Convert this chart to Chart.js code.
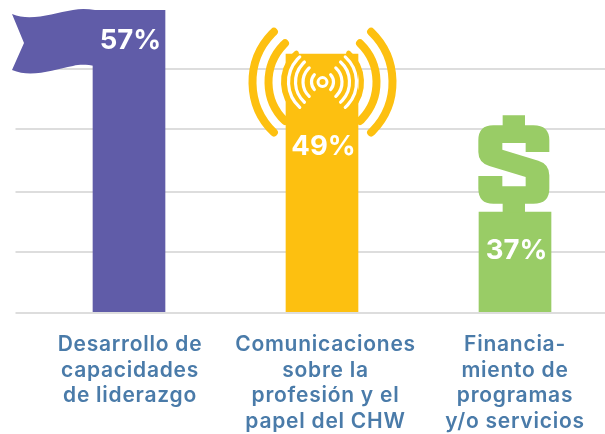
<!DOCTYPE html>
<html><head><meta charset="utf-8">
<script src="https://cdn.jsdelivr.net/npm/chart.js@4"></script>
<style>html,body{margin:0;padding:0;background:#fff;overflow:hidden;width:605px;height:434px}#w{position:relative;width:620px;height:434px}</style>
</head><body><div id="w"><canvas id="c"></canvas></div>
<script>
const categories=[["Desarrollo de","capacidades","de liderazgo"],["Comunicaciones","sobre la","profesión y el","papel del CHW"],["Financia-","miento de","programas","y/o servicios"]];
const values=[57,49,37];
const iconSpan=[0,0.3,18];
const labelAt=[51.2,31.3,11.7];
const gridValues=[0,11.4,22.75,34.6,45.85];
const labelNudge=[1,3.5,0];
const colors=["#605ca8","#fdc010","#99cc66"];
const FONT='Inter, "Open Sans", sans-serif';
const body=values.map((v,i)=>v-iconSpan[i]);

function flag(ctx,b,top){
  const r=b.x-b.width/2;
  ctx.fillStyle=colors[0];ctx.beginPath();
  ctx.moveTo(r-81,top+4);
  ctx.bezierCurveTo(r-62,top+12,r-40,top+3,r-20,top);
  ctx.bezierCurveTo(r-12,top-1.5,r-5,top-1,r+2,top);
  ctx.lineTo(r+2,top+56);
  ctx.bezierCurveTo(r-5,top+55,r-12,top+54,r-20,top+56);
  ctx.bezierCurveTo(r-40,top+60,r-62,top+68,r-81,top+60);
  ctx.lineTo(r-69,top+33);ctx.closePath();ctx.fill();
}
function arcs(ctx,cx,cy,rad,half,w,col){
  ctx.strokeStyle=col;ctx.lineWidth=w;ctx.lineCap='round';
  ctx.beginPath();ctx.arc(cx,cy,rad,-half,half);ctx.stroke();
  ctx.beginPath();ctx.arc(cx,cy,rad,Math.PI-half,Math.PI+half);ctx.stroke();
}
function antenna(ctx,b,top){
  const cx=b.x+0.5,cy=top+28,d=Math.PI/180;
  arcs(ctx,cx,cy,70,46*d,8,colors[1]);
  arcs(ctx,cx,cy,54,46*d,8,colors[1]);
  arcs(ctx,cx,cy,39,48*d,5,colors[1]);
  [[11,42],[19.5,47],[27,48],[34,48]].forEach(a=>arcs(ctx,cx,cy,a[0],a[1]*d,3.2,"#fff"));
  ctx.strokeStyle="#fff";ctx.lineWidth=3;ctx.beginPath();ctx.arc(cx,cy,4.5,0,7);ctx.stroke();
}
function dollar(ctx,b,top){
  const X=v=>b.x+(v-165)/3,Y=v=>top+(v-320)/3;
  const M=(x,y)=>ctx.moveTo(X(x),Y(y)),L=(x,y)=>ctx.lineTo(X(x),Y(y));
  const Q=(a,c,x,y)=>ctx.quadraticCurveTo(X(a),Y(c),X(x),Y(y));
  ctx.fillStyle=colors[2];ctx.beginPath();
  M(128,30);L(195,30);L(195,60);L(220,60);Q(268,60,268,105);L(268,140);L(197,140);L(197,113);L(127,113);L(127,133);
  L(235,166);Q(268,176,268,210);L(268,250);Q(268,295,220,295);L(195,295);L(195,322);L(128,322);L(128,295);L(100,295);
  Q(55,295,55,250);L(55,212);L(127,212);L(127,243);L(197,243);L(197,215);L(88,182);Q(55,172,55,140);L(55,105);Q(55,60,100,60);L(128,60);
  ctx.closePath();ctx.fill();
}
const pictorial={id:'pictorial',
  afterLayout(chart){
    chart.scales.x.getLabelItems().forEach((it,i)=>{it.options.translation[0]+=labelNudge[i];});
  },
  beforeDraw(chart){chart.ctx.letterSpacing='0.75px';},
  afterDatasetsDraw(chart){
    const ctx=chart.ctx,m=chart.getDatasetMeta(0).data,ys=chart.scales.y;
    ctx.save();
    ctx.letterSpacing='0px';
    flag(ctx,m[0],m[0].y);
    antenna(ctx,m[1],m[1].y);
    dollar(ctx,m[2],m[2].y);
    ctx.fillStyle="#fff";ctx.font='700 27.5px '+FONT;ctx.textAlign='center';ctx.textBaseline='middle';
    values.forEach((v,i)=>ctx.fillText(v+"%",m[i].x+1.5,ys.getPixelForValue(labelAt[i])));
    ctx.restore();
  }};
new Chart(document.getElementById('c'),{
  type:'bar',
  data:{labels:categories,datasets:[{data:body,backgroundColor:colors,barThickness:72,borderWidth:0}]},
  plugins:[pictorial],
  options:{
    responsive:true,maintainAspectRatio:false,animation:false,
    layout:{padding:{top:10,left:0,right:8.5,bottom:0}},
    plugins:{legend:{display:false},tooltip:{enabled:false}},
    scales:{
      x:{grid:{display:false},border:{display:true,color:"#dddddd",width:2,z:1},
         afterFit(s){s.height=121;},
         ticks:{color:"#4a7ba9",font:{family:FONT,size:21,weight:'600',lineHeight:1.22},padding:11,maxRotation:0,autoSkip:false}},
      y:{min:0,max:57,
         afterBuildTicks(s){s.ticks=gridValues.map(v=>({value:v}));},
         afterFit(s){s.width=32.5;},
         border:{display:false},
         grid:{color:"#dddddd",lineWidth:2,tickLength:17,drawTicks:true},
         ticks:{display:false}}
    }
  }
});
</script></body></html>
